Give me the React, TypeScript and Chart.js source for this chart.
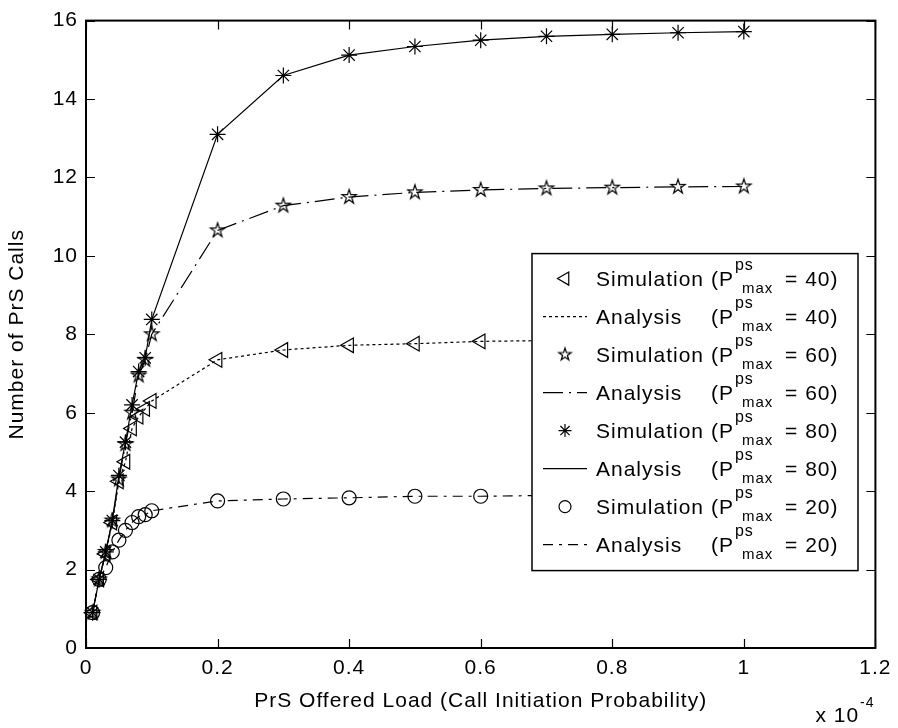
import React, { useEffect, useRef } from 'react';
import { Chart, registerables } from 'chart.js';
import { drawPoint } from 'chart.js/helpers';

Chart.register(...registerables);

// ---- data (x in units of 1e-4) ----
const loads = [0.01, 0.02, 0.03, 0.04, 0.05, 0.06, 0.07, 0.08, 0.09, 0.1, 0.2, 0.3, 0.4, 0.5, 0.6, 0.7, 0.8, 0.9, 1.0];
const calls40 = [0.9, 1.75, 2.4, 3.2, 4.25, 4.75, 5.6, 5.9, 6.1, 6.3, 7.35, 7.6, 7.72, 7.76, 7.82, 7.84, 7.85, 7.86, 7.87];
const calls60 = [0.9, 1.75, 2.45, 3.25, 4.3, 5.2, 6.0, 6.95, 7.35, 8.0, 10.65, 11.28, 11.5, 11.62, 11.68, 11.72, 11.74, 11.76, 11.77];
const calls80 = [0.9, 1.75, 2.45, 3.25, 4.4, 5.25, 6.2, 7.05, 7.4, 8.38, 13.1, 14.6, 15.12, 15.34, 15.5, 15.6, 15.65, 15.69, 15.72];
const calls20 = [0.9, 1.75, 2.05, 2.45, 2.75, 3.0, 3.2, 3.35, 3.4, 3.5, 3.75, 3.8, 3.83, 3.87, 3.87, 3.89, 3.9, 3.9, 3.91];
const xTickLabels = ['0', '0.2', '0.4', '0.6', '0.8', '1', '1.2'];
const yTickLabels = ['0', '2', '4', '6', '8', '10', '12', '14', '16'];
const xTitle = 'PrS Offered Load (Call Initiation Probability)';
const yTitle = 'Number of PrS Calls';

const FONT = '"Liberation Sans", Arial, Helvetica, sans-serif';

function makePentagram(r: number, lw: number): HTMLCanvasElement {
  const size = Math.ceil(2 * r + lw * 2 + 2);
  const c = document.createElement('canvas');
  c.width = size;
  c.height = size;
  const g = c.getContext('2d')!;
  const cx = size / 2, cy = size / 2;
  const ri = r * 0.382;
  g.beginPath();
  for (let k = 0; k < 10; k++) {
    const rad = k % 2 === 0 ? r : ri;
    const a = -Math.PI / 2 + (k * Math.PI) / 5;
    const px = cx + rad * Math.cos(a);
    const py = cy + rad * Math.sin(a);
    if (k === 0) g.moveTo(px, py); else g.lineTo(px, py);
  }
  g.closePath();
  g.strokeStyle = '#000';
  g.lineWidth = lw;
  g.stroke();
  return c;
}

const pts = (ys: number[]) => loads.map((x, i) => ({ x, y: ys[i] }));

const decorPlugin = {
  id: 'decor',
  beforeDraw(chart: any) {
    (chart.ctx as any).letterSpacing = '1px';
  },
  afterDraw(chart: any) {
    const ctx: CanvasRenderingContext2D = chart.ctx;
    const { left, right, top, bottom } = chart.chartArea;
    const xs = chart.scales.x;
    const ys = chart.scales.y;
    ctx.save();
    (ctx as any).letterSpacing = '1px';
    ctx.setLineDash([]);
    // inward ticks on all four sides
    ctx.strokeStyle = '#000';
    ctx.lineWidth = 1.2;
    const TL = 9;
    ctx.beginPath();
    xs.ticks.forEach((t: any) => {
      const px = Math.round(xs.getPixelForValue(t.value)) + 0.5;
      ctx.moveTo(px, bottom); ctx.lineTo(px, bottom - TL);
      ctx.moveTo(px, top); ctx.lineTo(px, top + TL);
    });
    ys.ticks.forEach((t: any) => {
      const py = Math.round(ys.getPixelForValue(t.value)) + 0.5;
      ctx.moveTo(left, py); ctx.lineTo(left + TL, py);
      ctx.moveTo(right, py); ctx.lineTo(right - TL, py);
    });
    ctx.stroke();

    // legend box
    const L = left + 446, T = top + 233, R = left + 772, B = top + 550;
    ctx.fillStyle = '#fff';
    ctx.fillRect(L, T, R - L, B - T);
    ctx.lineWidth = 1.5;
    ctx.strokeRect(L, T, R - L, B - T);

    const textX = L + 64;
    const mainFont = `21px ${FONT}`;
    ctx.font = mainFont;
    const wordCol = textX + ctx.measureText('Simulation ').width;
    chart.data.datasets.forEach((ds: any, i: number) => {
      const base = T + 32 + i * 38;
      const cy = base - 7;
      ctx.strokeStyle = '#000';
      ctx.fillStyle = 'rgba(0,0,0,0)';
      if (ds.showLine) {
        ctx.setLineDash(ds.borderDash || []);
        ctx.lineWidth = 1.2;
        ctx.beginPath();
        ctx.moveTo(L + 11, cy);
        ctx.lineTo(L + 55, cy);
        ctx.stroke();
        ctx.setLineDash([]);
      } else {
        ctx.lineWidth = 1.2;
        drawPoint(ctx, {
          pointStyle: ds.legendPointStyle || ds.pointStyle,
          rotation: ds.pointRotation || 0,
          radius: ds.legendRadius || 6,
          borderWidth: 1.2,
        } as any, L + 33, cy);
      }
      ctx.fillStyle = '#000';
      ctx.textBaseline = 'alphabetic';
      ctx.textAlign = 'left';
      ctx.font = mainFont;
      ctx.fillText(ds.entryWord, textX, base);
      ctx.fillText('(P', wordCol, base);
      const pEnd = wordCol + ctx.measureText('(P').width;
      ctx.font = `16px ${FONT}`;
      ctx.fillText('ps', pEnd + 1, base - 16);
      ctx.font = `15px ${FONT}`;
      const subX = pEnd + 8;
      ctx.fillText('max', subX, base + 7);
      const subEnd = subX + ctx.measureText('max').width;
      ctx.font = mainFont;
      ctx.fillText(` = ${ds.pmax})`, subEnd + 5, base);
    });

    // x-axis exponent
    ctx.fillStyle = '#000';
    ctx.font = `21px ${FONT}`;
    ctx.textBaseline = 'alphabetic';
    ctx.textAlign = 'left';
    const ex = right - 60;
    ctx.fillText('x 10', ex, bottom + 74);
    const ew = ctx.measureText('x 10').width;
    ctx.font = `14px ${FONT}`;
    ctx.fillText('-4', ex + ew + 1, bottom + 59);

    // frame
    ctx.lineWidth = 2;
    ctx.strokeStyle = '#000';
    ctx.strokeRect(left, top, right - left, bottom - top);
    ctx.restore();
  },
};

export default function App() {
  const ref = useRef<HTMLCanvasElement>(null);
  useEffect(() => {
    document.body.style.margin = '0';
    const canvas = ref.current!;
    const star5 = makePentagram(7.5, 1.2);
    const star5Legend = makePentagram(6.5, 1.2);

    const simBase = {
      showLine: false,
      pointBorderColor: '#000',
      pointBackgroundColor: 'rgba(0,0,0,0)',
      pointBorderWidth: 1.2,
      borderColor: '#000',
      clip: false,
    };
    const anaBase = {
      showLine: true,
      pointRadius: 0,
      borderColor: '#000',
      borderWidth: 1.2,
      tension: 0,
      fill: false,
    };

    const datasets: any[] = [
      { ...simBase, label: 'Simulation 40', entryWord: 'Simulation', pmax: 40, data: pts(calls40), pointStyle: 'triangle', pointRotation: -90, pointRadius: 8.5, legendRadius: 7.5 },
      { ...anaBase, label: 'Analysis 40', entryWord: 'Analysis', pmax: 40, data: pts(calls40), borderDash: [3, 3] },
      { ...simBase, label: 'Simulation 60', entryWord: 'Simulation', pmax: 60, data: pts(calls60), pointStyle: star5, legendPointStyle: star5Legend, pointRadius: 7 },
      { ...anaBase, label: 'Analysis 60', entryWord: 'Analysis', pmax: 60, data: pts(calls60), borderDash: [20, 6, 2, 6] },
      { ...simBase, label: 'Simulation 80', entryWord: 'Simulation', pmax: 80, data: pts(calls80), pointStyle: 'star', pointRadius: 8, legendRadius: 6.5 },
      { ...anaBase, label: 'Analysis 80', entryWord: 'Analysis', pmax: 80, data: pts(calls80), borderDash: [] },
      { ...simBase, label: 'Simulation 20', entryWord: 'Simulation', pmax: 20, data: pts(calls20), pointStyle: 'circle', pointRadius: 7, legendRadius: 6 },
      { ...anaBase, label: 'Analysis 20', entryWord: 'Analysis', pmax: 20, data: pts(calls20), borderDash: [10, 6, 3, 6] },
    ];

    const tickFont = { family: FONT, size: 21 };
    const titleFont = { family: FONT, size: 21 };

    const chart = new Chart(canvas, {
      type: 'scatter',
      data: { datasets },
      plugins: [decorPlugin],
      options: {
        animation: false,
        responsive: false,
        events: [],
        layout: { padding: { top: 20, right: 18, left: 0, bottom: 0 } },
        plugins: { legend: { display: false }, tooltip: { enabled: false } },
        scales: {
          x: {
            type: 'linear',
            min: 0,
            max: 1.2,
            grid: { display: false, drawTicks: false },
            border: { display: false },
            ticks: {
              stepSize: 0.2,
              autoSkip: false,
              maxRotation: 0,
              padding: 8,
              color: '#000',
              font: tickFont,
              callback: (_v: any, i: number) => xTickLabels[i],
            },
            title: { display: true, text: xTitle, color: '#000', font: titleFont, padding: { top: 0, bottom: 14 } },
            afterFit: (s: any) => { s.height = 80; },
          },
          y: {
            type: 'linear',
            min: 0,
            max: 16,
            grid: { display: false, drawTicks: false },
            border: { display: false },
            ticks: {
              stepSize: 2,
              autoSkip: false,
              padding: 8,
              color: '#000',
              font: tickFont,
              callback: (_v: any, i: number) => yTickLabels[i],
            },
            title: { display: true, text: yTitle, color: '#000', font: titleFont, padding: { top: 5, bottom: 0 } },
            afterFit: (s: any) => { s.width = 86; },
          },
        },
      } as any,
    });
    return () => chart.destroy();
  }, []);
  return <canvas ref={ref} width={898} height={728} style={{ display: 'block', width: 898, height: 728 }} />;
}
